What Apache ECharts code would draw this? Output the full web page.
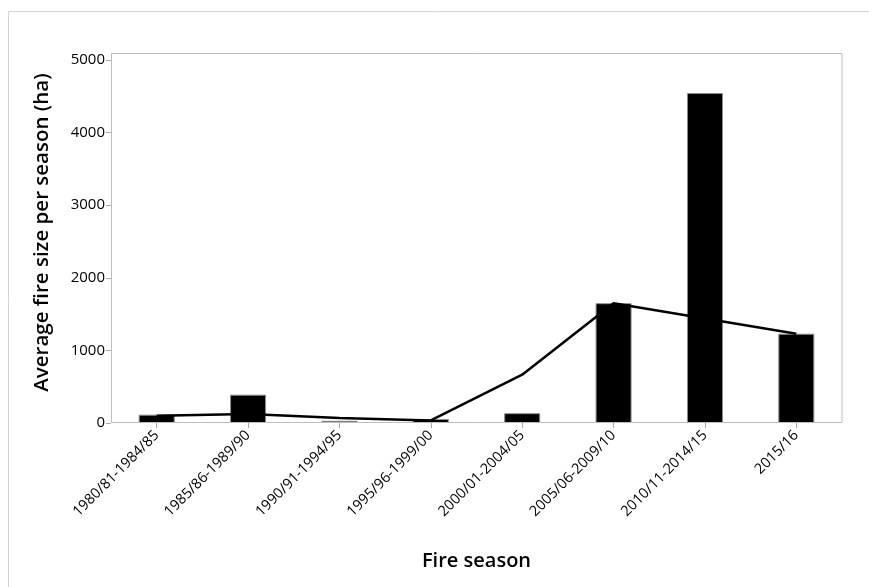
<!DOCTYPE html>
<html>
<head>
<meta charset="utf-8">
<script src="https://cdn.jsdelivr.net/npm/echarts@6/dist/echarts.min.js"></script>
<style>html,body{margin:0;padding:0;background:#fff}#c{width:869px;height:587px}</style>
</head>
<body>
<div id="c"></div>
<script>
const categories = ["1980/81-1984/85","1985/86-1989/90","1990/91-1994/95","1995/96-1999/00","2000/01-2004/05","2005/06-2009/10","2010/11-2014/15","2015/16"];
const barValues = [115, 390, 30, 55, 135, 1650, 4545, 1230];
const lineValues = [100, 125, 70, 35, 665, 1650, 1440, 1230];
const yTicks = [0, 1000, 2000, 3000, 4000, 5000];

const chart = echarts.init(document.getElementById('c'), null, {renderer: 'canvas'});
const FONT = "'Open Sans', 'Noto Sans', sans-serif";
chart.setOption({
  animation: false,
  backgroundColor: '#fff',
  textStyle: {fontFamily: FONT},
  graphic: [
    {type: 'rect', shape: {x: 8.5, y: 11.5, width: 900, height: 600}, style: {fill: null, stroke: '#d4d4d4', lineWidth: 1}, silent: true, z: -10},
    {type: 'rect', shape: {x: 111.5, y: 53.5, width: 730.5, height: 369}, style: {fill: null, stroke: '#bdbdbd', lineWidth: 1}, silent: true, z: 10}
  ],
  grid: {left: 111, right: 27, top: 60, bottom: 164, show: false},
  xAxis: {
    type: 'category',
    data: categories,
    axisLine: {show: false},
    axisTick: {show: true, alignWithLabel: true, length: 5, lineStyle: {color: '#a8a8a8'}},
    axisLabel: {rotate: 45, fontSize: 14.5, fontWeight: 500, color: '#000', margin: 10, fontFamily: FONT, interval: 0},
    name: 'Fire season',
    nameLocation: 'middle',
    nameGap: 128,
    nameTextStyle: {fontSize: 20, fontWeight: 600, color: '#000', fontFamily: FONT}
  },
  yAxis: {
    type: 'value',
    min: yTicks[0],
    max: yTicks[yTicks.length - 1],
    interval: 1000,
    splitLine: {show: false},
    axisLine: {show: false},
    axisTick: {show: true, length: 5, lineStyle: {color: '#a8a8a8'}},
    axisLabel: {fontSize: 15, fontWeight: 500, color: '#000', margin: 6, fontFamily: FONT, formatter: v => String(v)},
    name: 'Average fire size per season (ha)',
    nameLocation: 'middle',
    nameGap: 58,
    nameTextStyle: {fontSize: 20.5, fontWeight: 600, color: '#000', fontFamily: FONT, padding: [0, 0, 0, 18]}
  },
  series: [
    {
      type: 'bar',
      data: barValues,
      barWidth: 36,
      itemStyle: {color: '#000', borderColor: '#8c8c8c', borderWidth: 1},
      z: 2
    },
    {
      type: 'line',
      data: lineValues,
      symbol: 'none',
      lineStyle: {color: '#000', width: 2.5},
      z: 3
    }
  ]
});
</script>
</body>
</html>
